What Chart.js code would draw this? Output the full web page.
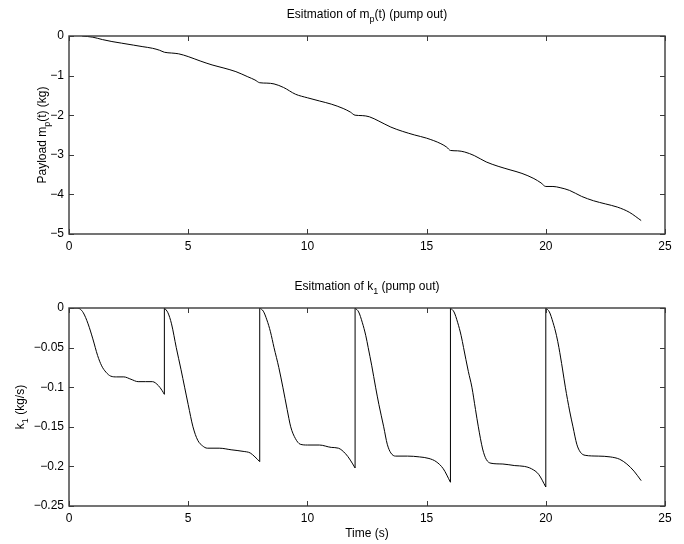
<!DOCTYPE html>
<html>
<head>
<meta charset="utf-8">
<script src="https://cdn.jsdelivr.net/npm/chart.js@4.4.1/dist/chart.umd.min.js"></script>
<style>
  html, body { margin: 0; padding: 0; background: #fff; }
  #wrap { position: relative; width: 684px; height: 544px; }
  canvas { position: absolute; left: 0; }
</style>
</head>
<body>
<div id="wrap">
  <canvas id="c1" width="684" height="272" style="top:0"></canvas>
  <canvas id="c2" width="684" height="272" style="top:272px"></canvas>
</div>
<script>
// ---- Data ----
const mpTime = [0.55, 1.0, 1.4, 1.8, 2.2, 2.7, 3.1, 3.5, 3.8, 4.0, 4.3, 4.6, 5.0, 5.5, 6.0, 6.5, 7.0, 7.5, 7.8, 8.0, 8.3, 8.6, 9.0, 9.5, 10.0, 10.5, 11.0, 11.5, 11.8, 12.0, 12.3, 12.6, 13.0, 13.5, 14.0, 14.5, 15.0, 15.6, 15.85, 16.0, 16.3, 16.6, 17.0, 17.5, 18.0, 18.5, 19.0, 19.5, 19.8, 20.0, 20.3, 20.6, 21.0, 21.5, 22.0, 22.5, 23.0, 23.5, 24.0];
const mpVals = [0.0, -0.03, -0.09, -0.14, -0.18, -0.23, -0.27, -0.31, -0.36, -0.41, -0.43, -0.45, -0.52, -0.63, -0.73, -0.81, -0.9, -1.03, -1.11, -1.18, -1.19, -1.21, -1.3, -1.47, -1.56, -1.64, -1.72, -1.83, -1.92, -2.0, -2.01, -2.04, -2.15, -2.3, -2.41, -2.5, -2.58, -2.72, -2.81, -2.89, -2.9, -2.93, -3.02, -3.18, -3.29, -3.38, -3.47, -3.6, -3.71, -3.8, -3.8, -3.83, -3.9, -4.05, -4.16, -4.24, -4.32, -4.45, -4.66];

const k1Time = [
  0, 0.3, 0.45, 0.6, 0.8, 1.0, 1.2, 1.37, 1.55, 1.75, 2.0, 2.3, 2.6, 2.9, 3.2, 3.5, 3.75, 3.9, 4.0,
  4.0, 4.15, 4.3, 4.5, 4.7, 4.85, 5.0, 5.2, 5.4, 5.6, 5.8, 6.3, 6.8, 7.3, 7.6, 7.8, 8.0,
  8.0, 8.15, 8.3, 8.45, 8.6, 8.8, 8.97, 9.15, 9.3, 9.5, 9.7, 10.0, 10.5, 11.0, 11.3, 11.6, 11.8, 12.0,
  12.0, 12.15, 12.3, 12.45, 12.55, 12.7, 12.86, 13.0, 13.2, 13.35, 13.5, 13.7, 14.2, 14.7, 15.1, 15.4, 15.7, 16.0,
  16.0, 16.15, 16.3, 16.45, 16.55, 16.75, 16.9, 17.05, 17.17, 17.35, 17.5, 17.7, 18.2, 18.7, 19.1, 19.4, 19.7, 20.0,
  20.0, 20.15, 20.3, 20.45, 20.55, 20.7, 20.82, 21.0, 21.14, 21.3, 21.45, 21.65, 22.2, 22.7, 23.1, 23.4, 23.7, 24.0
];
const k1Vals = [
  0, 0, -0.001, -0.006, -0.02, -0.039, -0.06, -0.073, -0.081, -0.086, -0.087, -0.087, -0.09, -0.093, -0.093, -0.093, -0.098, -0.104, -0.109,
  0, -0.006, -0.02, -0.05, -0.078, -0.1, -0.122, -0.15, -0.167, -0.174, -0.177, -0.177, -0.179, -0.181, -0.183, -0.188, -0.194,
  0, -0.004, -0.015, -0.03, -0.05, -0.075, -0.1, -0.128, -0.15, -0.165, -0.172, -0.173, -0.173, -0.176, -0.177, -0.184, -0.192, -0.202,
  0, -0.005, -0.018, -0.035, -0.05, -0.073, -0.1, -0.122, -0.15, -0.172, -0.183, -0.187, -0.187, -0.188, -0.19, -0.194, -0.203, -0.22,
  0, -0.005, -0.018, -0.035, -0.05, -0.08, -0.1, -0.128, -0.15, -0.178, -0.191, -0.196, -0.197, -0.199, -0.2, -0.203, -0.21, -0.226,
  0, -0.005, -0.018, -0.035, -0.05, -0.077, -0.1, -0.13, -0.15, -0.172, -0.182, -0.186, -0.187, -0.188, -0.191, -0.197, -0.206, -0.218
];

const xTicks = [0, 5, 10, 15, 20, 25];
const mpTicks = [0, -1, -2, -3, -4, -5];
const k1Ticks = [0, -0.05, -0.1, -0.15, -0.2, -0.25];
const k1TickLabels = ['0', '\u22120.05', '\u22120.1', '\u22120.15', '\u22120.2', '\u22120.25'];
const mpTickLabels = ['0', '\u22121', '\u22122', '\u22123', '\u22124', '\u22125'];

// ---- Layout helpers ----
const FONT = '"Liberation Sans", Arial, Helvetica, sans-serif';
const AREA = { left: 69, right: 665, top: 36, bottom: 234 };

function drawRich(ctx, parts, x, y) {
  ctx.textBaseline = 'middle';
  ctx.textAlign = 'left';
  let w = 0;
  parts.forEach(p => {
    ctx.font = (p.sub ? '9px ' : '12px ') + FONT;
    p.w = ctx.measureText(p.t).width;
    w += p.w;
  });
  let cx = x - w / 2;
  parts.forEach(p => {
    ctx.font = (p.sub ? '9px ' : '12px ') + FONT;
    ctx.fillText(p.t, cx, y + (p.sub ? 5 : 0));
    cx += p.w;
  });
}

function framePlugin(opts) {
  return {
    id: 'frame' + opts.id,
    afterDraw(chart) {
      const ctx = chart.ctx;
      const a = chart.chartArea;
      const xs = chart.scales.x, ys = chart.scales.y;
      ctx.save();
      ctx.strokeStyle = '#3a3a3a';
      ctx.lineWidth = 1.4;
      ctx.strokeRect(a.left, a.top, a.right - a.left, a.bottom - a.top);
      ctx.lineWidth = 1;
      const tl = 5;
      ctx.beginPath();
      xTicks.forEach(v => {
        const px = Math.round(xs.getPixelForValue(v)) + 0.5;
        ctx.moveTo(px, a.bottom); ctx.lineTo(px, a.bottom - tl);
        ctx.moveTo(px, a.top); ctx.lineTo(px, a.top + tl);
      });
      opts.yTicks.forEach(v => {
        const py = Math.round(ys.getPixelForValue(v)) + 0.5;
        ctx.moveTo(a.left, py); ctx.lineTo(a.left + tl, py);
        ctx.moveTo(a.right, py); ctx.lineTo(a.right - tl, py);
      });
      ctx.stroke();
      ctx.fillStyle = '#000';
      // title
      drawRich(ctx, opts.title, (a.left + a.right) / 2, 15);
      // y label
      ctx.save();
      ctx.translate(opts.ylabelX, (a.top + a.bottom) / 2);
      ctx.rotate(-Math.PI / 2);
      drawRich(ctx, opts.ylabel, 0, 0);
      ctx.restore();
      if (opts.xlabel) drawRich(ctx, opts.xlabel, (a.left + a.right) / 2, 262);
      ctx.restore();
    }
  };
}

function makeOptions(yMin, yMax, yTickVals, yLabels) {
  return {
    responsive: false,
    animation: false,
    events: [],
    layout: { padding: { left: 0, right: 684 - AREA.right, top: AREA.top, bottom: 0 } },
    plugins: { legend: { display: false }, tooltip: { enabled: false }, title: { display: false } },
    scales: {
      x: {
        type: 'linear', min: 0, max: 25,
        grid: { display: false, drawTicks: false },
        border: { display: false },
        afterBuildTicks: s => { s.ticks = xTicks.map(v => ({ value: v })); },
        afterFit: s => { s.height = 272 - AREA.bottom; },
        ticks: { color: '#000', padding: 5, maxRotation: 0, font: { family: FONT, size: 12 },
                 callback: v => String(v) }
      },
      y: {
        type: 'linear', min: yMin, max: yMax,
        grid: { display: false, drawTicks: false },
        border: { display: false },
        afterBuildTicks: s => { s.ticks = yTickVals.map(v => ({ value: v })); },
        afterFit: s => { s.width = AREA.left; },
        ticks: { color: '#000', padding: 5, font: { family: FONT, size: 12 },
                 callback: (v) => {
                   const i = yTickVals.findIndex(t => Math.abs(t - v) < 1e-9);
                   return i >= 0 ? yLabels[i] : '';
                 } }
      }
    }
  };
}

// ---- Chart 1: payload ----
new Chart(document.getElementById('c1'), {
  type: 'scatter',
  data: {
    datasets: [{
      data: mpTime.map((t, i) => ({ x: t, y: mpVals[i] })),
      showLine: true, borderColor: '#000', borderWidth: 1, pointRadius: 0,
      cubicInterpolationMode: 'monotone'
    }]
  },
  options: makeOptions(-5, 0, mpTicks, mpTickLabels),
  plugins: [framePlugin({
    id: 1, yTicks: mpTicks, ylabelX: 43,
    title: [{ t: 'Esitmation of m' }, { t: 'p', sub: true }, { t: '(t) (pump out)' }],
    ylabel: [{ t: 'Payload m' }, { t: 'p', sub: true }, { t: '(t) (kg)' }]
  })]
});

// ---- Chart 2: k1 (split into continuous segments at jumps) ----
const segs = [];
let cur = [];
k1Time.forEach((t, i) => {
  if (i > 0 && t === k1Time[i - 1]) { segs.push(cur); cur = []; }
  cur.push({ x: t, y: k1Vals[i] });
});
segs.push(cur);
const k1Datasets = [];
segs.forEach((s, i) => {
  k1Datasets.push({ data: s, showLine: true, borderColor: '#000', borderWidth: 1, pointRadius: 0, cubicInterpolationMode: 'monotone' });
  if (i > 0) {
    const prev = segs[i - 1][segs[i - 1].length - 1];
    k1Datasets.push({ data: [prev, s[0]], showLine: true, borderColor: '#000', borderWidth: 1, pointRadius: 0, tension: 0 });
  }
});

new Chart(document.getElementById('c2'), {
  type: 'scatter',
  data: { datasets: k1Datasets },
  options: makeOptions(-0.25, 0, k1Ticks, k1TickLabels),
  plugins: [framePlugin({
    id: 2, yTicks: k1Ticks, ylabelX: 21,
    title: [{ t: 'Esitmation of k' }, { t: '1', sub: true }, { t: ' (pump out)' }],
    ylabel: [{ t: 'k' }, { t: '1', sub: true }, { t: ' (kg/s)' }],
    xlabel: [{ t: 'Time (s)' }]
  })]
});
</script>
</body>
</html>
